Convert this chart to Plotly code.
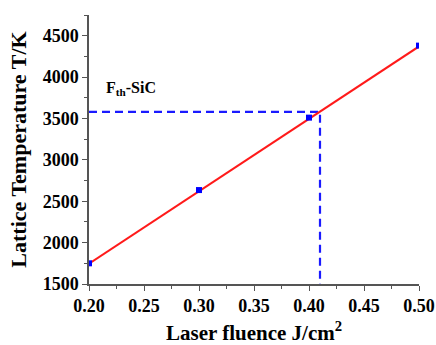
import plotly.graph_objects as go

fluence = [0.2, 0.3, 0.4, 0.5]
temperature = [1750, 2635, 3510, 4380]
fit_x = [0.2, 0.5]
fit_y = [1745, 4370]
threshold_fluence = 0.41
threshold_temp = 3580
x_ticks = [0.20, 0.25, 0.30, 0.35, 0.40, 0.45, 0.50]
x_tick_labels = ["0.20", "0.25", "0.30", "0.35", "0.40", "0.45", "0.50"]
y_ticks = [1500, 2000, 2500, 3000, 3500, 4000, 4500]
y_tick_labels = ["1500", "2000", "2500", "3000", "3500", "4000", "4500"]

FONT = "Liberation Serif"

fig = go.Figure()
fig.add_trace(go.Scatter(x=[fit_x[0], threshold_fluence, threshold_fluence],
                         y=[threshold_temp, threshold_temp, 1500],
                         mode="lines", line=dict(color="#1a1aff", width=2.2, dash="8px,5px"),
                         hoverinfo="skip", showlegend=False))
fig.add_trace(go.Scatter(x=fit_x, y=fit_y, mode="lines",
                         line=dict(color="#ff1a1a", width=2), showlegend=False))
fig.add_trace(go.Scatter(x=fluence, y=temperature, mode="markers",
                         marker=dict(symbol="square", size=6, color="#0000ff"),
                         showlegend=False))

fig.add_annotation(x=0.2, y=3860, xref="x", yref="y", xanchor="left", yanchor="middle",
                   xshift=15, showarrow=False,
                   text="<b>F<sub>th</sub>-SiC</b>",
                   font=dict(family=FONT, size=16, color="black"))

axis_common = dict(showline=True, linecolor="#555555", linewidth=1.5, ticks="outside",
                   ticklen=5, tickwidth=1.2, tickcolor="#555555", showgrid=False, zeroline=False,
                   tickfont=dict(family=FONT, size=18, color="black"),
                   mirror=False, automargin=False)

fig.update_xaxes(range=[0.2, 0.5], tickvals=x_ticks,
                 ticktext=["<b>%s</b>" % t for t in x_tick_labels],
                 minor=dict(dtick=0.025, ticklen=3, tickcolor="#555555", ticks="outside"),
                 title=dict(text="<b>Laser fluence J/cm<sup>2</sup></b>", standoff=12,
                            font=dict(family=FONT, size=21, color="black")),
                 **axis_common)
fig.update_yaxes(range=[1500, 4750], tickvals=y_ticks,
                 ticktext=["<b>%s</b>" % t for t in y_tick_labels],
                 minor=dict(dtick=250, ticklen=3, tickcolor="#555555", ticks="outside"),
                 title=dict(text="<b>Lattice Temperature T/K</b>", standoff=10,
                            font=dict(family=FONT, size=22, color="black")),
                 **axis_common)

fig.update_layout(width=436, height=345, margin=dict(l=89, r=17, t=15, b=61),
                  plot_bgcolor="white", paper_bgcolor="white",
                  font=dict(family=FONT))

fig.write_html("out.html")
